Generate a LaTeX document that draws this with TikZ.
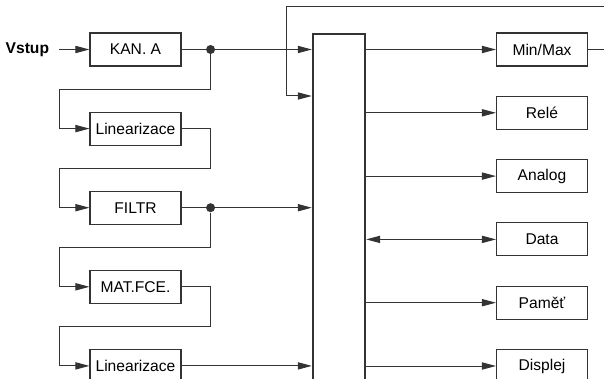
\documentclass[tikz,border=0pt]{standalone}
\usepackage{fontspec}
\setmainfont{Liberation Sans}
\definecolor{linegray}{HTML}{333333}
\usetikzlibrary{arrows.meta, positioning, calc}

\begin{document}
\begin{tikzpicture}[
    x=0.5pt, y=-0.5pt,
    node distance=22.5pt and 15pt,
    block/.style={
        rectangle,
        draw=linegray,
        line width=0.55pt,
        minimum width=45.5pt,
        minimum height=16.5pt,
        inner sep=1pt,
        font=\fontsize{7.8}{9}\selectfont,
    },
    bus/.style={
        rectangle,
        draw=linegray,
        line width=1.2pt,
        minimum width=26pt,
        minimum height=190pt,
        anchor=north,
    },
    dot/.style={circle, fill=linegray, inner sep=0pt, minimum size=4.5pt},
    arr/.style={-{Triangle[length=7pt, width=3.6pt]}, line width=0.5pt, color=linegray},
    darr/.style={{Triangle[length=7pt, width=3.6pt]}-{Triangle[length=7pt, width=3.6pt]}, line width=0.5pt, color=linegray},
    lin/.style={line width=0.5pt, color=linegray},
]

\path[use as bounding box, clip] (0,0) rectangle (604,379);

% left column
\node[block] (kan) at (135.5,49.5) {KAN. A};
\node[block, below=of kan] (lin1) {Linearizace};
\node[block, below=of lin1] (filtr) {FILTR};
\node[block, below=of filtr] (mat) {MAT.FCE.};
\node[block, below=of mat] (lin2) {Linearizace};

\node[font=\fontsize{7.8}{9}\selectfont\bfseries, inner xsep=5pt, inner ysep=0pt,
    left=15pt of kan] (vstup) {Vstup};

% central block
\node[bus] (bus) at (339,33) {};

% right column
\node[block] (mm) at (542,49.5) {Min/Max};
\node[block, below=14.6pt of mm] (rele) {Relé};
\node[block, below=14.6pt of rele] (analog) {Analog};
\node[block, below=14.6pt of analog] (data) {Data};
\node[block, below=14.6pt of data] (pamet) {Paměť};
\node[block, below=14.6pt of pamet] (displej) {Displej};

\node[dot] (d1) at ($(kan.east)+(29,0)$) {};
\node[dot] (d2) at ($(filtr.east)+(29,0)$) {};

\coordinate (m1) at ($(kan.south)!.5!(lin1.north)-(76.5,0)$);
\coordinate (r2) at ($(lin1.south)!.5!(filtr.north)+(74.5,0)$);
\coordinate (m2) at ($(lin1.south)!.5!(filtr.north)-(76.5,0)$);
\coordinate (m3) at ($(filtr.south)!.5!(mat.north)-(76.5,0)$);
\coordinate (r4) at ($(mat.south)!.5!(lin2.north)+(74.5,0)$);
\coordinate (m4) at ($(mat.south)!.5!(lin2.north)-(76.5,0)$);

\draw[arr] (vstup) -- (kan);
\draw[lin] (kan) -- (d1);
\draw[arr] (d1) -- (d1 -| bus.west);
\draw[arr] (d1) |- (m1) |- (lin1.west);
\draw[arr] (lin1.east) -| (r2) -- (m2) |- (filtr.west);
\draw[lin] (filtr) -- (d2);
\draw[arr] (d2) -- (d2 -| bus.west);
\draw[arr] (d2) |- (m3) |- (mat.west);
\draw[arr] (mat.east) -| (r4) -- (m4) |- (lin2.west);
\draw[arr] (lin2) -- (lin2 -| bus.west);

% feedback from Min/Max
\coordinate (fbr) at ($(mm.east)+(40,0)$);
\coordinate (fbt) at (286,7);
\coordinate (fbin) at ($(bus.north west)+(0,63)$);
\draw[arr] (mm.east) -- (fbr) |- (fbt) |- (fbin);

\draw[arr] (mm -| bus.east) -- (mm);
\draw[arr] (rele -| bus.east) -- (rele);
\draw[arr] (analog -| bus.east) -- (analog);
\draw[darr] (data -| bus.east) -- (data);
\draw[arr] (pamet -| bus.east) -- (pamet);
\draw[arr] (displej -| bus.east) -- (displej);

\end{tikzpicture}
\end{document}
